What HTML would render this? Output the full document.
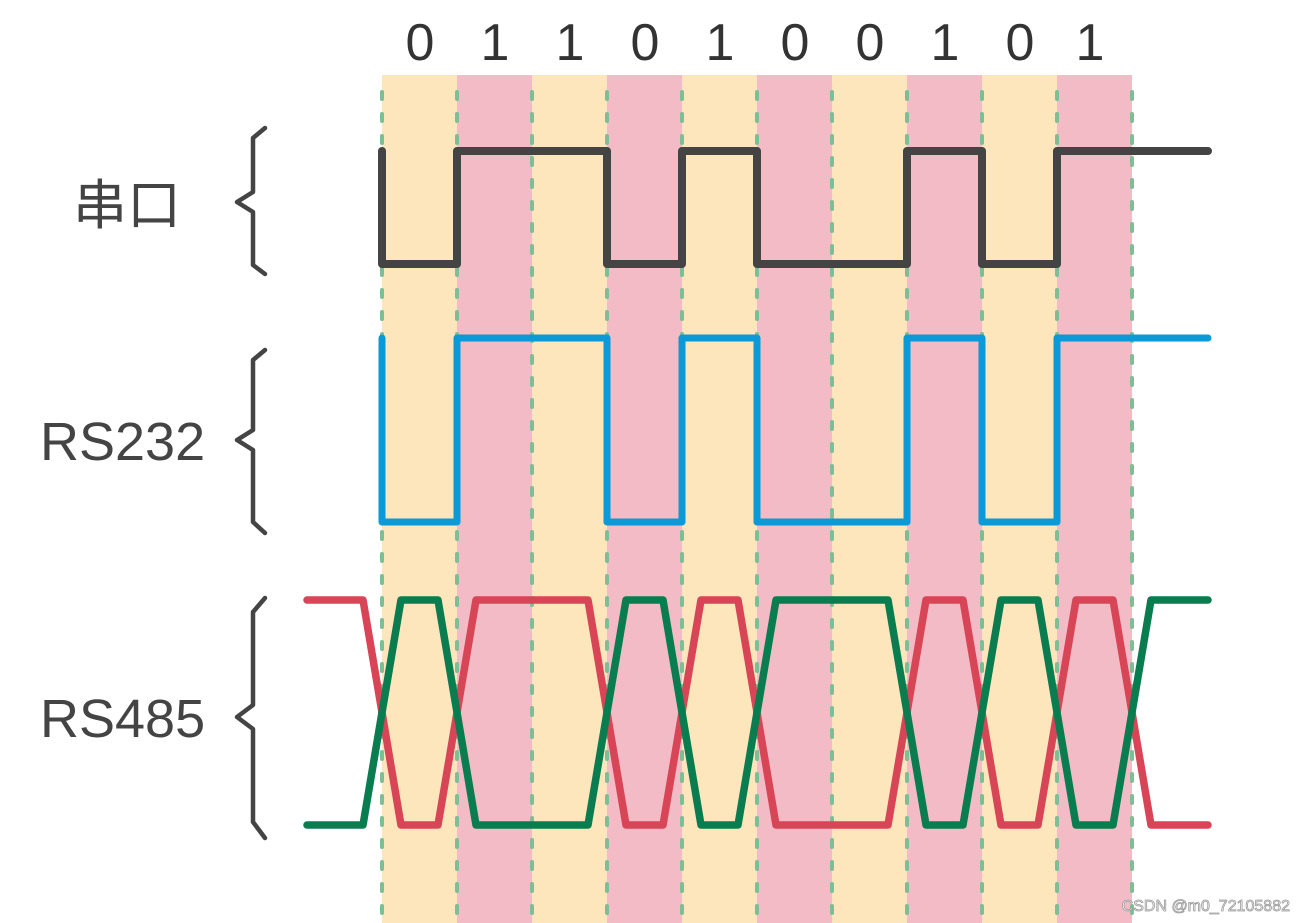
<!DOCTYPE html>
<html><head><meta charset="utf-8"><style>
html,body{margin:0;padding:0;background:#fff;}
svg{display:block;}
</style></head><body>
<svg width="1304" height="923" viewBox="0 0 1304 923" xmlns="http://www.w3.org/2000/svg">
<g>
<rect x="382" y="75" width="75" height="848" fill="#fde6bb"/>
<rect x="457" y="75" width="75" height="848" fill="#f3bbc5"/>
<rect x="532" y="75" width="75" height="848" fill="#fde6bb"/>
<rect x="607" y="75" width="75" height="848" fill="#f3bbc5"/>
<rect x="682" y="75" width="75" height="848" fill="#fde6bb"/>
<rect x="757" y="75" width="75" height="848" fill="#f3bbc5"/>
<rect x="832" y="75" width="75" height="848" fill="#fde6bb"/>
<rect x="907" y="75" width="75" height="848" fill="#f3bbc5"/>
<rect x="982" y="75" width="75" height="848" fill="#fde6bb"/>
<rect x="1057" y="75" width="75" height="848" fill="#f3bbc5"/>
</g>
<g stroke="#7dbf95" stroke-width="4" stroke-dasharray="7 15" stroke-linecap="round">
<line x1="382" y1="92" x2="382" y2="923"/><line x1="457" y1="92" x2="457" y2="923"/>
<line x1="532" y1="92" x2="532" y2="923"/><line x1="607" y1="92" x2="607" y2="923"/>
<line x1="682" y1="92" x2="682" y2="923"/><line x1="757" y1="92" x2="757" y2="923"/>
<line x1="832" y1="92" x2="832" y2="923"/><line x1="907" y1="92" x2="907" y2="923"/>
<line x1="982" y1="92" x2="982" y2="923"/><line x1="1057" y1="92" x2="1057" y2="923"/>
<line x1="1132" y1="92" x2="1132" y2="923"/>
</g>
<g font-family="Liberation Sans, sans-serif" font-size="52" fill="#333" text-anchor="middle">
<text x="420" y="60">0</text><text x="495" y="60">1</text><text x="570" y="60">1</text>
<text x="645" y="60">0</text><text x="720" y="60">1</text><text x="795" y="60">0</text>
<text x="870" y="60">0</text><text x="945" y="60">1</text><text x="1020" y="60">0</text>
<text x="1090" y="60">1</text>
</g>
<g font-family="Liberation Sans, 'Noto Sans CJK SC', sans-serif" font-size="54" fill="#444">
<text x="73" y="224">串口</text>
<text x="40" y="460">RS232</text>
<text x="40" y="737">RS485</text>
</g>
<g fill="none" stroke="#444" stroke-width="4.5" stroke-linejoin="round" stroke-linecap="round">
<path d="M265,128 L253,138 L253,192 L237,202 L253,212 L253,265 L265,274"/>
<path d="M265,350 L253,360 L253,430 L237,440 L253,450 L253,522 L265,533"/>
<path d="M265,598 L253,612 L253,705 L237,717 L253,729 L253,822 L265,838"/>
</g>
<path d="M382,151 L382,264 L457,264 L457,151 L607,151 L607,264 L682,264 L682,151 L757,151 L757,264 L907,264 L907,151 L982,151 L982,264 L1057,264 L1057,151 L1208,151" fill="none" stroke="#444" stroke-width="8" stroke-linejoin="round" stroke-linecap="round"/>
<path d="M382,338 L382,522 L457,522 L457,338 L607,338 L607,522 L682,522 L682,338 L757,338 L757,522 L907,522 L907,338 L982,338 L982,522 L1057,522 L1057,338 L1208,338" fill="none" stroke="#0a9ad8" stroke-width="7" stroke-linejoin="round" stroke-linecap="round"/>
<path d="M307,600 L363,600 L401,825 L438,825 L476,600 L588,600 L626,825 L663,825 L701,600 L738,600 L776,825 L888,825 L926,600 L963,600 L1001,825 L1038,825 L1076,600 L1113,600 L1151,825 L1208,825" fill="none" stroke="#d84556" stroke-width="7.5" stroke-linejoin="round" stroke-linecap="round"/>
<path d="M307,825 L363,825 L401,600 L438,600 L476,825 L588,825 L626,600 L663,600 L701,825 L738,825 L776,600 L888,600 L926,825 L963,825 L1001,600 L1038,600 L1076,825 L1113,825 L1151,600 L1208,600" fill="none" stroke="#0a7d50" stroke-width="7.5" stroke-linejoin="round" stroke-linecap="round"/>
<text x="1290" y="911" text-anchor="end" font-family="Liberation Sans, sans-serif" font-size="16" fill="#fff" stroke="#999" stroke-width="0.8">CSDN @m0_72105882</text>
</svg>
</body></html>
